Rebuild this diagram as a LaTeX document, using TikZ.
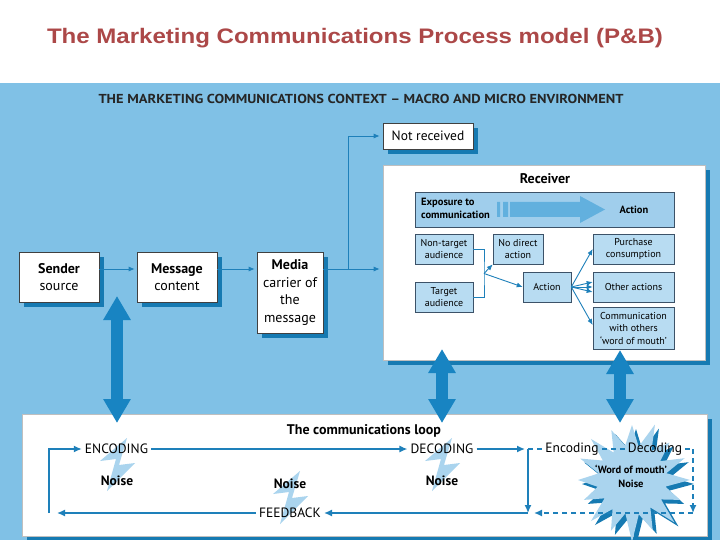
\documentclass[tikz,border=0pt]{standalone}
\usepackage{fontspec}
\newfontfamily\dfont{PT Sans}
\newfontfamily\tfont{Liberation Sans}
\usetikzlibrary{arrows.meta,shadows,calc}
\definecolor{bgblue}{RGB}{128,193,230}
\definecolor{shadowblue}{RGB}{22,122,178}
\definecolor{arrowblue}{RGB}{24,132,194}
\definecolor{lineblue}{RGB}{30,128,186}
\definecolor{boxblue}{RGB}{184,220,242}
\definecolor{boxedge}{RGB}{60,82,104}
\definecolor{expofill}{RGB}{160,206,236}
\definecolor{expoarrow}{RGB}{98,176,222}
\definecolor{boltblue}{RGB}{170,212,238}
\definecolor{titlered}{RGB}{172,72,72}
\begin{document}
\begin{tikzpicture}[x=1pt,y=-1pt,
  sbox/.style={draw=black!75, line width=0.6pt, fill=white, inner sep=0pt, align=center,
    drop shadow={shadow xshift=5pt, shadow yshift=-5pt, fill=shadowblue, opacity=1}},
  bigbox/.style={sbox, draw=black!25},
  ibox/.style={draw=boxedge, line width=0.6pt, fill=boxblue, inner sep=0pt, align=center,
    font=\dfont\fontsize{10}{12.5}\selectfont},
  mainfont/.style={font=\dfont\fontsize{14}{17.5}\selectfont},
  link/.style={draw=lineblue, line width=0.9pt},
  thinarrow/.style={link, -{Latex[length=6pt,width=5pt]}},
  loopline/.style={draw=lineblue, line width=1.4pt},
  looparrow/.style={loopline, -{Latex[length=8pt,width=7pt]}},
  dashline/.style={loopline, dash pattern=on 5pt off 4pt},
  bigarrow/.style={draw=arrowblue, line width=12pt,
    {Triangle[length=24pt,width=26pt]}-{Triangle[length=24pt,width=26pt]}},
  noise/.style={font=\dfont\bfseries\fontsize{13.5}{15}\selectfont},
  looptext/.style={font=\dfont\fontsize{13.5}{15}\selectfont, inner sep=3pt},
  bolt/.pic={\fill[boltblue] (10,-26) -- (-17,-3) -- (-1,-5) -- (-10,27) -- (18,-1) -- (2,1) -- cycle;},
  starburst/.pic={\path[pic actions] (0:58) -- (11.25:34) -- (22.5:52) -- (33.75:35) -- (45:60) -- (56.25:33)
    -- (67.5:54) -- (78.75:35) -- (90:62) -- (101.25:34) -- (112.5:55) -- (123.75:35) -- (135:58)
    -- (146.25:33) -- (157.5:52) -- (168.75:35) -- (180:54) -- (191.25:34) -- (202.5:56) -- (213.75:35)
    -- (225:58) -- (236.25:33) -- (247.5:54) -- (258.75:35) -- (270:55) -- (281.25:34) -- (292.5:60)
    -- (303.75:35) -- (315:53) -- (326.25:34) -- (337.5:57) -- (348.75:35) -- cycle;}
]
\useasboundingbox (0,0) rectangle (720,540);
\clip (0,0) rectangle (720,540);
\fill[white] (0,0) rectangle (720,540);
\fill[bgblue] (0,83) rectangle (720,540);

% title
\node[font=\tfont\bfseries\fontsize{21}{24}\selectfont, text=titlered] (title) at (355,38)
  {\scalebox{1.145}[1]{The Marketing Communications Process model (P\&B)}};
\node[font=\dfont\bfseries\fontsize{13}{15}\selectfont, text=black!85] (header) at (361,99)
  {\scalebox{1.11}[1]{THE MARKETING COMMUNICATIONS CONTEXT – MACRO AND MICRO ENVIRONMENT}};

% left chain
\node[sbox, mainfont, minimum width=80pt, minimum height=50pt] (sender) at (59,277) {{\bfseries Sender}\\source};
\node[sbox, mainfont, minimum width=80pt, minimum height=50pt] (message) at (177,277) {{\bfseries Message}\\content};
\node[sbox, mainfont, minimum width=66pt, minimum height=81pt] (media) at (290,292.5) {{\bfseries Media}\\carrier of\\the\\message};
\node[sbox, font=\dfont\fontsize{13.5}{15}\selectfont, minimum width=90pt, minimum height=26pt] (notrec) at (428,136) {Not received};

% receiver
\node[bigbox, minimum width=322pt, minimum height=195pt] (receiver) at (544,262.5) {};
\node[font=\dfont\bfseries\fontsize{14}{16}\selectfont] (rectitle) at (545,179) {Receiver};
\node[draw=boxedge, line width=0.6pt, fill=expofill, minimum width=259pt, minimum height=35pt, inner sep=0pt] (expo) at (544.5,209.5) {};
\fill[expoarrow] (497,202) rectangle (500,217) (503,202) rectangle (508,217);
\fill[expoarrow] (510,202) -- (580,202) -- (580,196) -- (605,209.5) -- (580,223) -- (580,217) -- (510,217) -- cycle;
\node[anchor=west, align=left, font=\dfont\bfseries\fontsize{10.5}{12.5}\selectfont, inner sep=0pt] (expotext) at (421,208.5) {Exposure to\\communication};
\node[font=\dfont\bfseries\fontsize{10.5}{12}\selectfont] (expoact) at (634,210) {Action};

\node[ibox, minimum width=58pt, minimum height=30pt] (nontarget) at (444,249) {Non-target\\audience};
\node[ibox, minimum width=58pt, minimum height=30pt] (target) at (444,297) {Target\\audience};
\node[ibox, minimum width=50pt, minimum height=30pt] (nodirect) at (518,249) {No direct\\action};
\node[ibox, minimum width=48pt, minimum height=30pt] (action) at (547,287) {Action};
\node[ibox, minimum width=81pt, minimum height=30pt] (purchase) at (633.5,249) {Purchase\\consumption};
\node[ibox, minimum width=81pt, minimum height=30pt] (other) at (633.5,287) {Other actions};
\node[ibox, minimum width=81pt, minimum height=42pt] (comm) at (633.5,328) {Communication\\with others\\‘word of mouth’};

\coordinate (jn) at (484,273.5);
\draw[link] (nontarget.east) -| (jn) |- (target.east);
\draw[thinarrow] (jn) -- (nodirect.south west);
\draw[thinarrow] (jn) -- (action.west);
\draw[thinarrow] (action.east) -- (purchase.west);
\draw[thinarrow] (action.east) -- ([yshift=5pt]other.west);
\draw[thinarrow] (action.east) -- (other.west);
\draw[thinarrow] (action.east) -- ([yshift=-5pt]other.west);
\draw[thinarrow] (action.east) -- ([yshift=3pt]comm.west);

% main arrows
\coordinate (mj) at (348,269);
\draw[thinarrow, shorten >=2pt] ([yshift=8pt]sender.east) -- ([yshift=8pt]message.west);
\draw[thinarrow, shorten >=2pt] ([yshift=8pt]message.east) -- (media.west |- mj);
\draw[thinarrow, shorten >=3pt] (media.east |- mj) -- (receiver.west |- mj);
\draw[thinarrow, shorten >=3pt] (mj) |- (notrec.west);

% loop box
\node[bigbox, minimum width=685pt, minimum height=122pt] (loop) at (364.5,475) {};
\node[font=\dfont\bfseries\fontsize{14}{16}\selectfont] (looptitle) at (364,431) {The communications loop};

\pic[fill=shadowblue] at (636,484) {starburst};
\pic[fill=boltblue] at (632,480) {starburst};
\pic at (117,464) {bolt};
\pic at (290,497) {bolt};
\pic at (442,464) {bolt};

\node[looptext] (enc) at (116.5,449) {ENCODING};
\node[looptext] (dec) at (442,449) {DECODING};
\node[looptext] (enc2) at (572,449) {Encoding};
\node[looptext] (dec2) at (655,449) {Decoding};
\node[looptext] (fb) at (290,513) {FEEDBACK};
\node[noise] (n1) at (117,481) {Noise};
\node[noise] (n2) at (290,484) {Noise};
\node[noise] (n3) at (442,481) {Noise};
\node[font=\dfont\bfseries\fontsize{10.5}{14}\selectfont, align=center] (wom) at (631,476) {‘Word of mouth’\\Noise};

\coordinate (lTL) at (49,449);
\coordinate (lBL) at (49,513);
\coordinate (jR) at (528,449);
\coordinate (jRB) at (528,513);
\coordinate (dR) at (693,449);
\coordinate (dRB) at (693,513);
\draw[looparrow] (lBL) -- (lTL) -- (enc.west);
\draw[looparrow] (enc.east) -- (dec.west);
\draw[looparrow, shorten >=3pt] (dec.east) -- (jR);
\draw[looparrow] (jR) -- (jRB);
\draw[looparrow] (jRB) -- (fb.east);
\draw[looparrow, shorten >=8pt] (fb.west) -- (lBL);
\draw[dashline] (jR) -- (enc2.west);
\draw[dashline] (enc2.east) -- (dec2.west);
\draw[dashline] (dec2.east) -- (dR);
\draw[dashline, -{Latex[length=8pt,width=7pt]}] (dR) -- (dRB);
\draw[dashline, -{Latex[length=8pt,width=7pt]}, shorten >=6pt] (dRB) -- (jRB);

% big double arrows
\coordinate (a1t) at (117,296); \coordinate (a1b) at (117,423);
\coordinate (a2t) at (442,349); \coordinate (a2b) at (442,423);
\coordinate (a3t) at (620,350); \coordinate (a3b) at (620,423);
\draw[bigarrow] (a1t) -- (a1b);
\draw[bigarrow] (a2t) -- (a2b);
\draw[bigarrow] (a3t) -- (a3b);
\end{tikzpicture}
\end{document}
